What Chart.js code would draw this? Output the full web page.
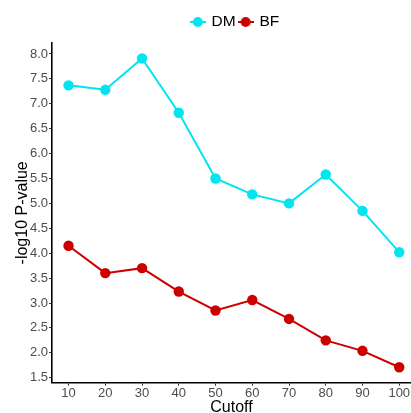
<!DOCTYPE html>
<html><head><meta charset="utf-8">
<script src="https://cdn.jsdelivr.net/npm/chart.js@4"></script>
<style>html,body{margin:0;padding:0;background:#fff}#wrap{width:411px;height:413px}</style>
</head><body><div id="wrap"><canvas id="c" width="411" height="413"></canvas></div>
<script>
const cutoffs = [10, 20, 30, 40, 50, 60, 70, 80, 90, 100];
const dmValues = [7.37, 7.28, 7.91, 6.82, 5.50, 5.18, 5.00, 5.58, 4.85, 4.02];
const bfValues = [4.15, 3.60, 3.70, 3.23, 2.85, 3.06, 2.68, 2.25, 2.04, 1.71];
const xTicks = [10, 20, 30, 40, 50, 60, 70, 80, 90, 100];
const yTicks = [1.5, 2.0, 2.5, 3.0, 3.5, 4.0, 4.5, 5.0, 5.5, 6.0, 6.5, 7.0, 7.5, 8.0];
const seriesNames = ['DM', 'BF'];
const colors = ['#00E5EE', '#CD0000'];

function legendGlyph(color) {
  const c = document.createElement('canvas');
  c.width = 16; c.height = 12;
  const g = c.getContext('2d');
  g.strokeStyle = color; g.lineWidth = 2;
  g.beginPath(); g.moveTo(0, 6); g.lineTo(16, 6); g.stroke();
  g.fillStyle = color; g.beginPath(); g.arc(8, 6, 5, 0, Math.PI * 2); g.fill();
  return c;
}

const toPts = vals => cutoffs.map((x, i) => ({x, y: vals[i]}));

const legendShift = {
  id: 'legendShift',
  afterLayout(chart) {
    const L = chart.legend;
    if (L) { L.left += 30; L.right += 30; L.top -= 3.3; L.bottom -= 3.3; }
  }
};

new Chart(document.getElementById('c'), {
  type: 'line',
  plugins: [legendShift],
  data: {
    datasets: [
      {label: seriesNames[0], data: toPts(dmValues), borderColor: colors[0], backgroundColor: colors[0],
       borderWidth: 2, pointRadius: 5.2, pointHoverRadius: 5.2, pointBorderWidth: 0, tension: 0, clip: false},
      {label: seriesNames[1], data: toPts(bfValues), borderColor: colors[1], backgroundColor: colors[1],
       borderWidth: 2, pointRadius: 5.2, pointHoverRadius: 5.2, pointBorderWidth: 0, tension: 0, clip: false}
    ]
  },
  options: {
    responsive: false, animation: false, devicePixelRatio: 1,
    layout: {autoPadding: false, padding: {top: 6, right: 0, bottom: 0, left: 0}},
    plugins: {
      tooltip: {enabled: false},
      legend: {
        position: 'top',
        labels: {
          usePointStyle: true, pointStyleWidth: 12, padding: 4, boxHeight: 12,
          color: '#000', font: {family: 'Liberation Sans', size: 15.5},
          generateLabels: chart => chart.data.datasets.map((d, i) => ({
            text: d.label, fillStyle: colors[i], strokeStyle: colors[i],
            pointStyle: legendGlyph(colors[i]), datasetIndex: i, hidden: false, lineWidth: 0, fontColor: '#000'
          }))
        }
      }
    },
    scales: {
      x: {
        type: 'linear', min: 5.5, max: 103.2,
        afterBuildTicks: s => { s.ticks = xTicks.map(v => ({value: v})); },
        afterFit: s => { s.height = 30.3; s.paddingLeft = 0; s.paddingRight = 0; s.paddingTop = 0; s.paddingBottom = 0; },
        grid: {display: true, drawOnChartArea: false, drawTicks: true, tickLength: 3, tickColor: '#333', tickWidth: 1},
        border: {display: true, color: '#000', width: 1.6},
        ticks: {color: '#4d4d4d', font: {family: 'Liberation Sans', size: 13}, padding: 0, maxRotation: 0, autoSkip: false},
        title: {display: true, text: 'Cutoff', color: '#000', font: {family: 'Liberation Sans', size: 16, lineHeight: 0.7}, padding: 0}
      },
      y: {
        type: 'linear', min: 1.40, max: 8.22,
        afterBuildTicks: s => { s.ticks = yTicks.map(v => ({value: v})); },
        afterFit: s => { s.width = 52; s.paddingTop = 43; s.paddingBottom = 0; s.paddingLeft = 0; s.paddingRight = 0; },
        grid: {display: true, drawOnChartArea: false, drawTicks: true, tickLength: 3, tickColor: '#333', tickWidth: 1},
        border: {display: true, color: '#000', width: 1.6},
        ticks: {color: '#4d4d4d', font: {family: 'Liberation Sans', size: 13}, padding: 1, autoSkip: false,
                callback: v => Number(v).toFixed(1)},
        title: {display: true, text: '-log10 P-value', color: '#000', font: {family: 'Liberation Sans', size: 16}, padding: {top: 13, bottom: 0}}
      }
    }
  }
});
</script></body></html>
